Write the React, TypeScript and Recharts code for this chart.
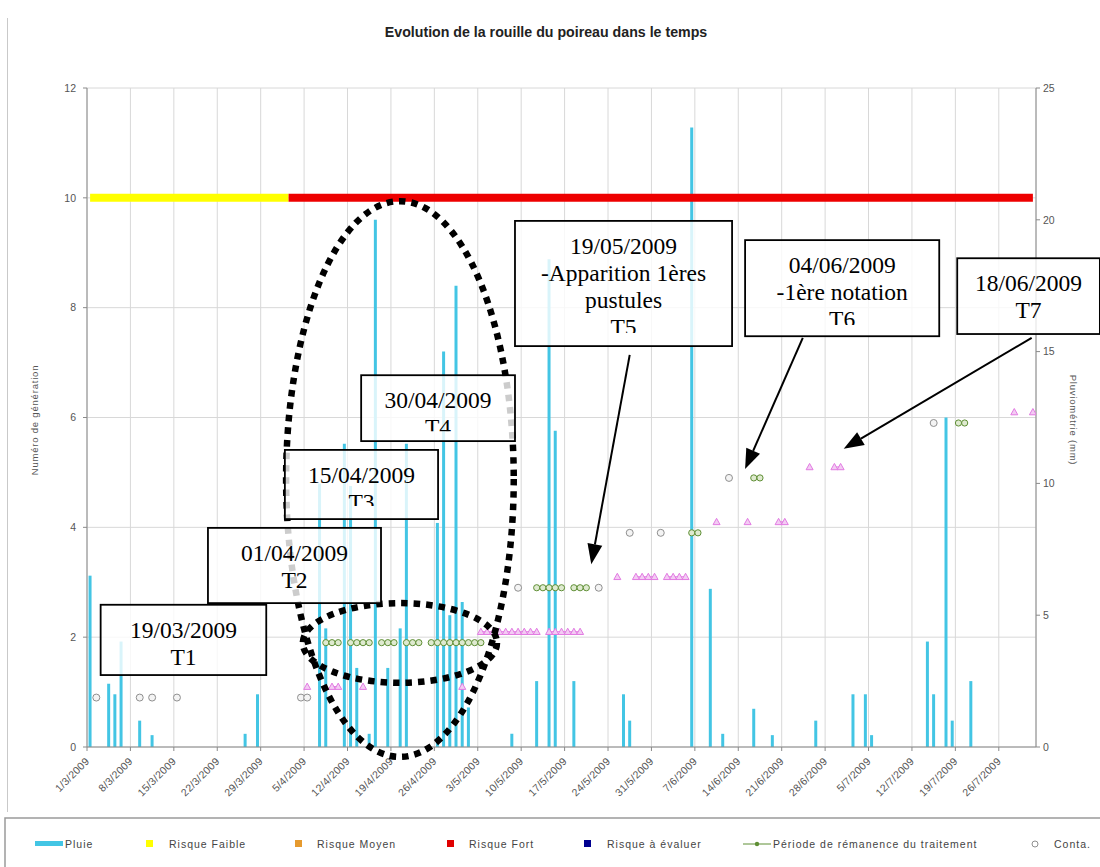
import React from 'react';
import {
  ComposedChart, Bar, Line, XAxis, YAxis, CartesianGrid, ReferenceArea, ReferenceLine,
} from 'recharts';

// ---------- DATA ----------
const tickDates = [
  '1/3/2009', '8/3/2009', '15/3/2009', '22/3/2009', '29/3/2009', '5/4/2009', '12/4/2009',
  '19/4/2009', '26/4/2009', '3/5/2009', '10/5/2009', '17/5/2009', '24/5/2009', '31/5/2009',
  '7/6/2009', '14/6/2009', '21/6/2009', '28/6/2009', '5/7/2009', '12/7/2009', '19/7/2009', '26/7/2009',
];
const tickDays = [0, 7, 14, 21, 28, 35, 42, 49, 56, 63, 70, 77, 84, 91, 98, 105, 112, 119, 126, 133, 140, 147];
const leftTicks = [0, 2, 4, 6, 8, 10, 12];
const rightTicks = [0, 5, 10, 15, 20, 25];

// rain (mm), day index counted from 1/3/2009
const rainDays = [0, 3, 4, 5, 8, 10, 25, 27, 37, 38, 41, 42, 43, 45, 46, 48, 50, 51, 56, 57, 58, 59, 60, 61,
  68, 72, 74, 75, 78, 86, 87, 97, 100, 102, 107, 110, 117, 123, 125, 126, 135, 136, 138, 139, 142];
const rainMm = [6.5, 2.4, 2.0, 4.0, 1.0, 0.45, 0.5, 2.0, 10.0, 4.5, 11.5, 9.9, 3.0, 0.5, 20.0, 3.0, 4.5, 11.5,
  8.5, 15.0, 5.0, 17.5, 5.5, 1.5, 0.5, 2.5, 18.5, 12.0, 2.5, 2.0, 1.0, 23.5, 6.0, 0.5, 1.45, 0.45, 1.0, 2.0,
  2.0, 0.45, 4.0, 2.0, 12.5, 1.0, 2.5];

const riskLevel = 10;
const riskFaibleDays = [0, 32];
const riskFortDays = [32, 152];

const contaDays = [1, 8, 10, 14, 34, 35, 69, 82, 87, 92, 103, 136];
const contaLevels = [0.9, 0.9, 0.9, 0.9, 0.9, 0.9, 2.9, 2.9, 3.9, 3.9, 4.9, 5.9];

const remanenceDays = [38, 39, 40, 42, 43, 44, 45, 47, 48, 49, 51, 52, 53, 55, 56, 57, 58, 59, 60, 61, 62, 63,
  72, 73, 74, 75, 76, 78, 79, 80, 97, 98, 107, 108, 140, 141];
const remanenceLevels = [1.9, 1.9, 1.9, 1.9, 1.9, 1.9, 1.9, 1.9, 1.9, 1.9, 1.9, 1.9, 1.9, 1.9, 1.9, 1.9, 1.9,
  1.9, 1.9, 1.9, 1.9, 1.9, 2.9, 2.9, 2.9, 2.9, 2.9, 2.9, 2.9, 2.9, 3.9, 3.9, 4.9, 4.9, 5.9, 5.9];

const generationDays = [35, 39, 40, 44, 60, 63, 64, 65, 66, 67, 68, 69, 70, 71, 72, 74, 75, 76, 77, 78, 79,
  85, 88, 89, 90, 91, 93, 94, 95, 96, 101, 106, 111, 112, 116, 120, 121, 149, 152];
const generationLevels = [1.1, 1.1, 1.1, 1.1, 1.1, 2.1, 2.1, 2.1, 2.1, 2.1, 2.1, 2.1, 2.1, 2.1, 2.1, 2.1, 2.1,
  2.1, 2.1, 2.1, 2.1, 3.1, 3.1, 3.1, 3.1, 3.1, 3.1, 3.1, 3.1, 3.1, 4.1, 4.1, 4.1, 4.1, 5.1, 5.1, 5.1, 6.1, 6.1];

// ---------- BUILD ----------
const slot = (d: number) => d + 0.5; // each day sits in the middle of its slot
const rainTable = rainDays.map((d, i) => ({ x: slot(d), rain: rainMm[i] }));
const faibleData = riskFaibleDays.map((d) => ({ x: slot(d), y: riskLevel }));
const fortData = riskFortDays.map((d) => ({ x: slot(d), y: riskLevel }));

function buildSeries(days: number[], levels: number[]) {
  const out: { x: number; y: number | null }[] = [];
  days.forEach((d, i) => {
    if (i > 0 && (d !== days[i - 1] + 1 || levels[i] !== levels[i - 1])) out.push({ x: d, y: null });
    out.push({ x: slot(d), y: levels[i] });
  });
  return out;
}
const contaData = contaDays.map((d, i) => ({ x: slot(d), y: contaLevels[i] }));
const remanenceData = buildSeries(remanenceDays, remanenceLevels);
const generationData = buildSeries(generationDays, generationLevels);

// ---------- STYLE / LAYOUT ----------
const W = 1100;
const H = 867;
const SANS = "'Liberation Sans', Arial, sans-serif";
const SERIF = "'Liberation Serif', 'Times New Roman', serif";
const CYAN = '#43c5e4';
const PINK = '#e27ae2';
const GREEN = '#5f8f35';
const GRAY = '#8f8f8f';
const margin = { top: 88, right: 24, bottom: 60, left: 27 };

// annotation geometry (axis units: x = days, y = generation number); clip = visible text height in px
const boxes = [
  { id: 'b1', x1: 2.2, x2: 28.9, y1: 1.31, y2: 2.59, clip: 999, lines: ['19/03/2009', 'T1'] },
  { id: 'b2', x1: 19.5, x2: 47.4, y1: 2.62, y2: 3.99, clip: 999, lines: ['01/04/2009', 'T2'] },
  { id: 'b3', x1: 31.9, x2: 56.6, y1: 4.15, y2: 5.41, clip: 56, lines: ['15/04/2009', 'T3'] },
  { id: 'b4', x1: 44.2, x2: 69.0, y1: 5.57, y2: 6.77, clip: 56, lines: ['30/04/2009', 'T4'] },
  { id: 'b5', x1: 69.0, x2: 104.0, y1: 7.30, y2: 9.58, clip: 112, lines: ['19/05/2009', '-Apparition 1ères', 'pustules', 'T5'] },
  { id: 'b6', x1: 106.1, x2: 137.4, y1: 7.48, y2: 9.23, clip: 85, lines: ['04/06/2009', '-1ère notation', 'T6'] },
  { id: 'b7', x1: 140.3, x2: 163.3, y1: 7.52, y2: 8.90, clip: 999, lines: ['18/06/2009', 'T7'] },
];
const ellipses = [
  { x1: 32.1, x2: 68.8, y1: -0.18, y2: 9.94 },
  { x1: 34.8, x2: 66.1, y1: 1.17, y2: 2.62 },
];
const arrows = [
  { from: { x: 87.5, y: 7.14 }, to: { x: 81.3, y: 3.33 } },
  { from: { x: 115.4, y: 7.45 }, to: { x: 106.1, y: 5.06 } },
  { from: { x: 152.3, y: 7.45 }, to: { x: 122.0, y: 5.43 } },
];

// ---------- SHAPES ----------
const TriangleDot = (p: any) => {
  const { cx, cy, index } = p;
  if (cy == null || cx == null) return <g key={`t${index}`} />;
  return (
    <path key={`t${index}`} d={`M${cx},${cy - 3.5}L${cx + 3.5},${cy + 2.8}L${cx - 3.5},${cy + 2.8}Z`}
      fill="#f3ccf3" stroke={PINK} strokeWidth={1} />
  );
};
const GreenDot = (p: any) => {
  const { cx, cy, index } = p;
  if (cy == null || cx == null) return <g key={`g${index}`} />;
  return <circle key={`g${index}`} cx={cx} cy={cy} r={3.1} fill="#dfead0" stroke={GREEN} strokeWidth={1} />;
};
const GrayDot = (p: any) => {
  const { cx, cy, index } = p;
  if (cy == null || cx == null) return <g key={`c${index}`} />;
  return <circle key={`c${index}`} cx={cx} cy={cy} r={3.5} fill="#f4f4f4" stroke={GRAY} strokeWidth={1} />;
};

const XTick = (p: any) => {
  const { x, y, payload } = p;
  const idx = tickDays.indexOf(payload.value);
  return (
    <g transform={`translate(${x + 3},${y + 9})`}>
      <text transform="rotate(-45)" textAnchor="end" fontSize={10.5} fill="#555" fontFamily={SANS} letterSpacing={0.3}>
        {idx >= 0 ? tickDates[idx] : ''}
      </text>
    </g>
  );
};

const makeBox = (lines: string[], id: string, clip: number) => (p: any) => {
  const { x, y, width, height } = p;
  return (
    <g>
      <defs>
        <clipPath id={`clip-${id}`}>
          <rect x={x} y={y} width={width} height={Math.min(height, clip)} />
        </clipPath>
      </defs>
      <rect x={x} y={y} width={width} height={height} fill="#ffffff" fillOpacity={0.8} stroke="#000" strokeWidth={1.8} />
      <g clipPath={`url(#clip-${id})`}>
        {lines.map((t, i) => (
          <text key={i} x={x + width / 2} y={y + 25 + 27 * i} dy="0.35em" textAnchor="middle"
            fontFamily={SERIF} fontSize={23.5} fill="#000">{t}</text>
        ))}
      </g>
    </g>
  );
};

const ellipseShape = (p: any) => (
  <ellipse cx={p.x + p.width / 2} cy={p.y + p.height / 2} rx={p.width / 2} ry={p.height / 2}
    fill="none" stroke="#000" strokeWidth={6.5} strokeDasharray="6.5 6" />
);

const arrowShape = (p: any) => {
  const { x1, y1, x2, y2 } = p;
  if ([x1, y1, x2, y2].some((v) => v == null)) return <g />;
  const a = Math.atan2(y2 - y1, x2 - x1);
  const L = 20;
  const Wd = 7.5;
  const bx = x2 - L * Math.cos(a);
  const by = y2 - L * Math.sin(a);
  const px = -Math.sin(a) * Wd;
  const py = Math.cos(a) * Wd;
  return (
    <g>
      <line x1={x1} y1={y1} x2={bx} y2={by} stroke="#000" strokeWidth={2} />
      <polygon points={`${x2},${y2} ${bx + px},${by + py} ${bx - px},${by - py}`} fill="#000" />
    </g>
  );
};

const legend = [
  { kind: 'bar', color: CYAN, sx: 35, tx: 65, label: 'Pluie' },
  { kind: 'sq', color: '#ffff00', sx: 149, tx: 169, label: 'Risque Faible' },
  { kind: 'sq', color: '#e69a2e', sx: 298, tx: 317, label: 'Risque Moyen' },
  { kind: 'sq', color: '#e00000', sx: 450, tx: 469, label: 'Risque Fort' },
  { kind: 'sq', color: '#000090', sx: 587, tx: 607, label: 'Risque à évaluer' },
  { kind: 'line', color: GREEN, sx: 743, tx: 773, label: 'Période de rémanence du traitement' },
  { kind: 'circ', color: GRAY, sx: 1035, tx: 1054, label: 'Conta.' },
];

export default function App() {
  const axisStroke = '#8a8a8a';
  return (
    <div style={{ position: 'fixed', left: 0, top: 0, width: W, height: H, overflow: 'hidden', background: '#fff' }}>
      <div style={{ position: 'absolute', left: 0, top: 0 }}>
        <ComposedChart width={W} height={H} data={rainTable} margin={margin}>
          <CartesianGrid stroke="#d8d8d8" strokeWidth={1} yAxisId="left" xAxisId="x" />
          <XAxis xAxisId="x" type="number" dataKey="x" domain={[0, 153]} ticks={tickDays} interval={0}
            allowDataOverflow height={60} tick={<XTick />} tickSize={4} stroke={axisStroke} />
          <YAxis yAxisId="left" domain={[0, 12]} ticks={leftTicks} width={60} tickSize={4} tickMargin={7}
            stroke={axisStroke} tick={{ fontSize: 10.5, fill: '#555', fontFamily: SANS }} />
          <YAxis yAxisId="right" orientation="right" domain={[0, 25]} ticks={rightTicks} width={40} tickSize={4}
            tickMargin={3} stroke={axisStroke} tick={{ fontSize: 10.5, fill: '#555', fontFamily: SANS }} />
          <Bar xAxisId="x" yAxisId="right" dataKey="rain" barSize={3} fill={CYAN} isAnimationActive={false} />
          <Line xAxisId="x" yAxisId="left" data={faibleData} dataKey="y" stroke="#ffff00" strokeWidth={8}
            dot={false} activeDot={false} isAnimationActive={false} />
          <Line xAxisId="x" yAxisId="left" data={fortData} dataKey="y" stroke="#ee0000" strokeWidth={8}
            dot={false} activeDot={false} isAnimationActive={false} />
          <Line xAxisId="x" yAxisId="left" data={generationData} dataKey="y" stroke={PINK} strokeWidth={1}
            dot={TriangleDot} activeDot={false} connectNulls={false} isAnimationActive={false} />
          <Line xAxisId="x" yAxisId="left" data={remanenceData} dataKey="y" stroke={GREEN} strokeWidth={1}
            dot={GreenDot} activeDot={false} connectNulls={false} isAnimationActive={false} />
          <Line xAxisId="x" yAxisId="left" data={contaData} dataKey="y" stroke="none" strokeWidth={0}
            dot={GrayDot} activeDot={false} isAnimationActive={false} />
        </ComposedChart>
      </div>

      <div style={{ position: 'absolute', left: 0, top: 0, pointerEvents: 'none' }}>
        <ComposedChart width={W} height={H} data={rainTable}
          margin={{ top: 88, right: 64, bottom: 120, left: 87 }}>
          <XAxis xAxisId="x" type="number" dataKey="x" domain={[0, 153]} hide allowDataOverflow />
          <YAxis yAxisId="left" domain={[0, 12]} hide allowDataOverflow />
          {ellipses.map((e, i) => (
            <ReferenceArea key={`e${i}`} xAxisId="x" yAxisId="left" x1={e.x1} x2={e.x2} y1={e.y1} y2={e.y2}
              ifOverflow="visible" shape={ellipseShape} />
          ))}
          {boxes.map((b) => (
            <ReferenceArea key={b.id} xAxisId="x" yAxisId="left" x1={b.x1} x2={b.x2} y1={b.y1} y2={b.y2}
              ifOverflow="visible" shape={makeBox(b.lines, b.id, b.clip)} />
          ))}
          {arrows.map((a, i) => (
            <ReferenceLine key={`a${i}`} xAxisId="x" yAxisId="left" segment={[a.from, a.to]}
              ifOverflow="visible" shape={arrowShape} />
          ))}
        </ComposedChart>
      </div>

      <svg width={W} height={H} style={{ position: 'absolute', left: 0, top: 0, pointerEvents: 'none' }}>
        <line x1={7.5} y1={18} x2={7.5} y2={812} stroke="#c9c9c9" strokeWidth={1} />
        <text x={546} y={37} textAnchor="middle" fontFamily={SANS} fontWeight="bold" fontSize={14.2} fill="#222">
          Evolution de la rouille du poireau dans le temps
        </text>
        <text transform="translate(38,420) rotate(-90)" textAnchor="middle" fontFamily={SANS} fontSize={9.5}
          fill="#555" letterSpacing={0.8}>Numéro de génération</text>
        <text transform="translate(1070,420) rotate(90)" textAnchor="middle" fontFamily={SANS} fontSize={9.5}
          fill="#555" letterSpacing={0.8}>Pluviométrie (mm)</text>
        <rect x={5} y={818} width={1110} height={80} fill="none" stroke="#9a9a9a" strokeWidth={1.5} />
        {legend.map((l, i) => (
          <g key={i}>
            {l.kind === 'bar' && <rect x={l.sx} y={841} width={28} height={5} fill={l.color} />}
            {l.kind === 'sq' && <rect x={l.sx - 3} y={840} width={7} height={7} fill={l.color} />}
            {l.kind === 'line' && (
              <g>
                <line x1={l.sx} y1={844} x2={l.sx + 28} y2={844} stroke={l.color} strokeWidth={1} />
                <circle cx={l.sx + 14} cy={844} r={2.2} fill={l.color} />
              </g>
            )}
            {l.kind === 'circ' && <circle cx={l.sx} cy={844} r={3} fill="none" stroke={l.color} strokeWidth={1} />}
            <text x={l.tx} y={848} fontFamily={SANS} fontSize={10.5} fill="#444" letterSpacing={1}>{l.label}</text>
          </g>
        ))}
      </svg>
    </div>
  );
}
